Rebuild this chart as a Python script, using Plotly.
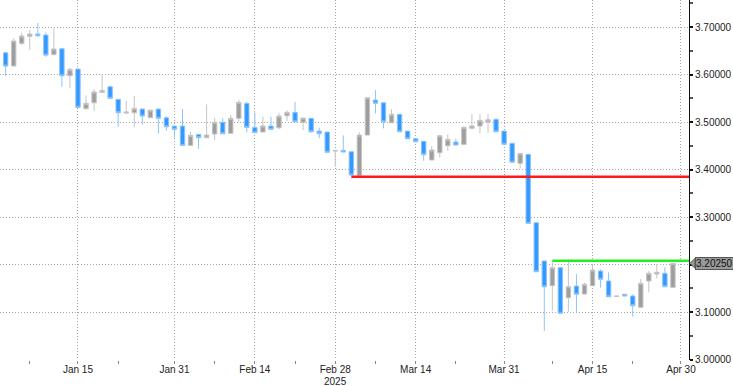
import pandas as pd
import plotly.graph_objects as go

# ---- data -------------------------------------------------------------
slot_dates = [d.strftime("%Y-%m-%d") for d in pd.bdate_range("2025-01-02", "2025-04-30")]

opens = [3.6459, 3.6180, 3.6657, 3.6805, 3.6853, 3.6832, 3.6425, 3.6543, 3.5975, 3.6116,
         3.5280, 3.5406, 3.5625, 3.5743, 3.5478, 3.5190, 3.5196, 3.5274, 3.5091, 3.5274,
         3.5090, 3.4916, 3.4916, 3.4509, 3.4741, 3.4670, 3.4747, 3.4994, 3.4762, 3.5078,
         3.5394, 3.4888, 3.4790, 3.4916, 3.4880, 3.5133, 3.5204, 3.4994, 3.5078, 3.4810,
         3.4789, 3.4390, 3.4404, 3.4375, 3.3870, 3.4726, 3.5463, 3.5406, 3.4985, 3.5162,
         3.4810, 3.4648, 3.4594, 3.4200, 3.4354, 3.4501, 3.4579, 3.4530, 3.4867, 3.4916,
         3.5000, 3.5057, 3.4810, 3.4552, 3.4131, 3.4320, 3.2880, 3.2074, 3.1554, 3.1933,
         3.1301, 3.1547, 3.1379, 3.1554, 3.1863, 3.1653, 3.1326, 3.1373, 3.1337, 3.1099,
         3.1653, 3.1800, 3.1815, 3.1520]
highs = [3.6465, 3.6762, 3.6888, 3.6937, 3.7084, 3.6888, 3.6973, 3.6550, 3.6143, 3.6125,
         3.5562, 3.5695, 3.6004, 3.5764, 3.5480, 3.5442, 3.5554, 3.5280, 3.5255, 3.5280,
         3.5120, 3.4920, 3.5274, 3.4796, 3.4745, 3.5373, 3.5091, 3.5078, 3.5147, 3.5470,
         3.5427, 3.5204, 3.5112, 3.5112, 3.5196, 3.5246, 3.5427, 3.5084, 3.5080, 3.4880,
         3.4790, 3.4400, 3.4720, 3.4380, 3.4783, 3.5512, 3.5674, 3.5406, 3.5267, 3.5165,
         3.4812, 3.4650, 3.4596, 3.4495, 3.4712, 3.4741, 3.4648, 3.4914, 3.5168, 3.5168,
         3.5168, 3.5078, 3.4812, 3.4555, 3.4341, 3.4325, 3.2885, 3.2080, 3.2067, 3.1947,
         3.2110, 3.1800, 3.1617, 3.2010, 3.1899, 3.1836, 3.1340, 3.1375, 3.1373, 3.1695,
         3.1863, 3.2010, 3.1941, 3.2038]
lows = [3.5968, 3.6175, 3.6621, 3.6516, 3.6796, 3.6375, 3.6396, 3.5743, 3.5710, 3.5300,
        3.5267, 3.5238, 3.5617, 3.5495, 3.4901, 3.5168, 3.4888, 3.4950, 3.5085, 3.4762,
        3.4817, 3.4670, 3.4505, 3.4495, 3.4432, 3.4657, 3.4621, 3.4750, 3.4758, 3.4994,
        3.4783, 3.4775, 3.4785, 3.4846, 3.4846, 3.5021, 3.5006, 3.4832, 3.4780, 3.4657,
        3.4362, 3.4059, 3.4368, 3.3884, 3.3870, 3.4726, 3.5183, 3.4867, 3.4985, 3.4796,
        3.4648, 3.4585, 3.4185, 3.4200, 3.4257, 3.4396, 3.4516, 3.4530, 3.4859, 3.4762,
        3.4775, 3.4796, 3.4531, 3.4143, 3.4025, 3.2860, 3.1840, 3.0600, 3.1027, 3.0960,
        3.1006, 3.0985, 3.1375, 3.1550, 3.1512, 3.1322, 3.1320, 3.1335, 3.0901, 3.1099,
        3.1415, 3.1709, 3.1533, 3.1520]
closes = [3.6179, 3.6705, 3.6810, 3.6853, 3.6817, 3.6410, 3.6537, 3.5975, 3.6109, 3.5309,
          3.5394, 3.5632, 3.5667, 3.5499, 3.5196, 3.5210, 3.5288, 3.5126, 3.5251, 3.5078,
          3.4901, 3.4846, 3.4509, 3.4720, 3.4670, 3.4726, 3.4994, 3.4754, 3.5078, 3.5415,
          3.4888, 3.4775, 3.4916, 3.4846, 3.5126, 3.5204, 3.5006, 3.5084, 3.4796, 3.4754,
          3.4362, 3.4400, 3.4368, 3.3884, 3.4726, 3.5512, 3.5394, 3.5006, 3.5162, 3.4796,
          3.4648, 3.4585, 3.4312, 3.4411, 3.4712, 3.4636, 3.4516, 3.4888, 3.4916, 3.5036,
          3.5048, 3.4796, 3.4531, 3.4152, 3.4341, 3.2867, 3.1848, 3.1533, 3.1933, 3.0973,
          3.1533, 3.1373, 3.1583, 3.1884, 3.1688, 3.1322, 3.1336, 3.1337, 3.1133, 3.1604,
          3.1815, 3.1836, 3.1533, 3.2025]

x_tick_dates = ["2025-01-15", "2025-01-31", "2025-02-14", "2025-02-28",
                "2025-03-14", "2025-03-31", "2025-04-15", "2025-04-30"]
x_tick_labels = ["Jan 15", "Jan 31", "Feb 14", "Feb 28",
                 "Mar 14", "Mar 31", "Apr 15", "Apr 30"]
year_label, year_label_date = "2025", "2025-02-28"
x_minor_dates = ["2025-01-07", "2025-01-22", "2025-02-07", "2025-02-21",
                 "2025-03-07", "2025-03-21", "2025-04-08", "2025-04-22"]

y_tick_vals = [3.0, 3.1, 3.2, 3.3, 3.4, 3.5, 3.6, 3.7]
y_tick_text = ["3.00000", "3.10000", "", "3.30000", "3.40000", "3.50000", "3.60000", "3.70000"]

red_level, red_start = 3.385, "2025-03-04"
green_level, green_start = 3.2078, "2025-04-08"
last_price_label = "3.20250"

# ---- build ------------------------------------------------------------
idx = {d: i for i, d in enumerate(slot_dates)}
xs = list(range(len(opens)))
x_range = [-0.7, 85.0]

BLUE_FILL, BLUE_LINE = "#3399ff", "#8cc4fb"
GRAY_FILL, GRAY_LINE = "#9e9e9e", "#c4c4c4"
FONT = "Tahoma, Liberation Sans, Arial, sans-serif"
TXT = "#222222"

fig = go.Figure()
fig.add_trace(go.Candlestick(
    x=xs, open=opens, high=highs, low=lows, close=closes,
    customdata=slot_dates[:len(opens)],
    increasing=dict(fillcolor=GRAY_FILL, line=dict(color=GRAY_LINE, width=1)),
    decreasing=dict(fillcolor=BLUE_FILL, line=dict(color=BLUE_LINE, width=1)),
    whiskerwidth=0, showlegend=False,
))
fig.add_trace(go.Scatter(x=[idx[red_start], x_range[1] + 1], y=[red_level, red_level],
                         mode="lines", line=dict(color="#ff1a1a", width=2.5),
                         showlegend=False, hoverinfo="skip"))
fig.add_trace(go.Scatter(x=[idx[green_start], x_range[1] + 1], y=[green_level, green_level],
                         mode="lines", line=dict(color="#22ee22", width=2.5),
                         showlegend=False, hoverinfo="skip"))

grid = dict(showgrid=True, gridcolor="#a8a8a8", griddash="1px,2px", gridwidth=1)

fig.update_layout(
    width=733, height=386,
    margin=dict(l=0, r=44, t=0, b=26, autoexpand=False),
    paper_bgcolor="white", plot_bgcolor="white",
    font=dict(family=FONT, size=10, color=TXT),
    boxgap=0.22,
    xaxis=dict(
        range=x_range, rangeslider=dict(visible=False), automargin=False,
        tickmode="array", tickvals=[idx[d] for d in x_tick_dates], ticktext=x_tick_labels,
        ticks="outside", ticklen=3, tickcolor="#888888", ticklabelstandoff=-3,
        minor=dict(tickmode="array", tickvals=[idx[d] for d in x_minor_dates],
                   ticks="outside", ticklen=3, tickcolor="#888888", showgrid=False),
        showline=False, zeroline=False, **grid,
        tickfont=dict(size=10, color=TXT),
    ),
    yaxis=dict(
        range=[2.999, 3.757], side="right", automargin=False,
        tickmode="array", tickvals=y_tick_vals, ticktext=y_tick_text,
        ticks="outside", ticklen=3, tickwidth=2, tickcolor="#111111",
        minor=dict(tickmode="linear", tick0=3.05, dtick=0.1, ticks="outside",
                   ticklen=3, tickcolor="#555555", showgrid=False),
        showline=True, linecolor="#111111", linewidth=1, mirror=False,
        zeroline=False, **grid,
        tickfont=dict(size=10, color=TXT),
    ),
    hovermode="x",
)

# year under the date labels
fig.add_annotation(xref="x", yref="paper", x=idx[year_label_date], y=0, yanchor="middle",
                   yshift=-21, text=year_label, showarrow=False,
                   font=dict(family=FONT, size=10, color=TXT))

# last-price tag on the right axis
fig.add_shape(type="path", xref="paper", yref="y", xsizemode="pixel", ysizemode="pixel",
              xanchor=1, yanchor=closes[-1],
              path="M 1 0 L 6 5 L 6 -5 Z", fillcolor="#9a9a9a",
              line=dict(color="#555555", width=1), layer="above")
fig.add_annotation(xref="paper", yref="y", x=1, y=closes[-1], xanchor="left", yanchor="middle",
                   xshift=6, text=last_price_label, showarrow=False,
                   bgcolor="#9a9a9a", bordercolor="#555555", borderwidth=1, borderpad=0,
                   font=dict(family=FONT, size=10, color="#111111"))

fig.write_html("out.html", config={"displayModeBar": False},
               post_script="document.body.style.margin='0';document.body.style.padding='0';"
                           "document.body.style.overflow='hidden';")
